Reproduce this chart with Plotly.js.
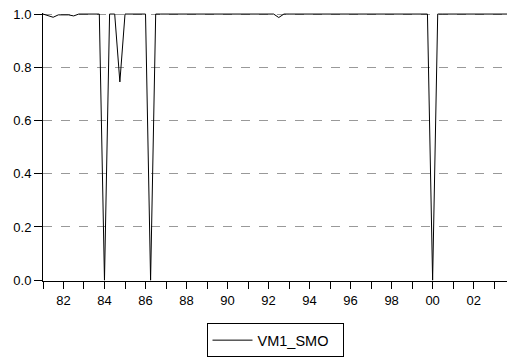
<!DOCTYPE html>
<html>
<head>
<meta charset="utf-8">
<script src="https://cdn.plot.ly/plotly-3.0.1.min.js"></script>
<style>html,body{margin:0;padding:0;background:#fff}#chart{width:507px;height:360px}</style>
</head>
<body>
<div id="chart"></div>
<script>
// Quarterly series VM1_SMO, 1981Q1 .. 2003Q4
const startYear = 1981;
const seriesName = "VM1_SMO";
const values = [
  1.000, 0.995, 0.988, 0.997,   // 1981
  0.998, 0.997, 0.993, 1.000,   // 1982
  1.000, 1.000, 1.000, 1.000,   // 1983
  0.000, 1.000, 1.000, 0.745,   // 1984
  1.000, 1.000, 1.000, 1.000,   // 1985
  1.000, 0.000, 1.000, 1.000,   // 1986
  1.000, 1.000, 1.000, 1.000,   // 1987
  1.000, 1.000, 1.000, 1.000,   // 1988
  1.000, 1.000, 1.000, 1.000,   // 1989
  1.000, 1.000, 1.000, 1.000,   // 1990
  1.000, 1.000, 1.000, 1.000,   // 1991
  1.000, 1.000, 0.987, 1.000,   // 1992
  1.000, 1.000, 1.000, 1.000,   // 1993
  1.000, 1.000, 1.000, 1.000,   // 1994
  1.000, 1.000, 1.000, 1.000,   // 1995
  1.000, 1.000, 1.000, 1.000,   // 1996
  1.000, 1.000, 1.000, 1.000,   // 1997
  1.000, 1.000, 1.000, 1.000,   // 1998
  1.000, 1.000, 1.000, 1.000,   // 1999
  0.000, 1.000, 1.000, 1.000,   // 2000
  1.000, 1.000, 1.000, 1.000,   // 2001
  1.000, 1.000, 1.000, 1.000,   // 2002
  1.000, 1.000, 1.000, 1.000    // 2003
];
const yTickVals = [0, 0.2, 0.4, 0.6, 0.8, 1.0];

const quarterMonth = ["01", "04", "07", "10"];
const dates = values.map((v, i) => {
  const y = startYear + Math.floor(i / 4);
  return y + "-" + quarterMonth[i % 4] + "-01";
});

const font = {family: "Liberation Sans, Arial, sans-serif", size: 13, color: "#000"};

Plotly.newPlot("chart", [{
  x: dates, y: values, type: "scatter", mode: "lines", name: seriesName,
  line: {color: "#000", width: 1}, showlegend: true
}], {
  width: 507, height: 360,
  margin: {l: 43, r: 0, t: 13, b: 79, pad: 0, autoexpand: false},
  paper_bgcolor: "#fff", plot_bgcolor: "#fff",
  font: font,
  showlegend: true,
  xaxis: {
    type: "date",
    range: ["1981-01-01", "2003-08-18"],
    showline: true, linecolor: "#000", linewidth: 1,
    showgrid: false, zeroline: false, automargin: false,
    ticks: "outside", ticklen: 7, tickwidth: 1, tickcolor: "#000",
    tick0: "1982-01-01", dtick: "M24", tickformat: "%y",
    minor: {tick0: "1981-01-01", dtick: "M12", ticks: "outside", ticklen: 7, tickwidth: 1, tickcolor: "#000", showgrid: false},
    tickfont: font
  },
  yaxis: {
    range: [-0.003, 1.004],
    showline: true, linecolor: "#000", linewidth: 1,
    zeroline: false, automargin: false,
    tickmode: "array", tickvals: yTickVals, tickformat: ".1f",
    ticks: "outside", ticklen: 8, tickwidth: 1, tickcolor: "#000",
    showgrid: true, gridcolor: "#999", griddash: "dash", gridwidth: 1,
    tickfont: font
  },
  legend: {
    orientation: "h", x: 0.5, xanchor: "center", y: -0.2844, yanchor: "bottom",
    bordercolor: "#000", borderwidth: 1, bgcolor: "#fff",
    font: {family: font.family, size: 14.5, color: "#000"},
    itemwidth: 40, entrywidth: 80
  }
}, {displayModeBar: false, staticPlot: true});
</script>
</body>
</html>
